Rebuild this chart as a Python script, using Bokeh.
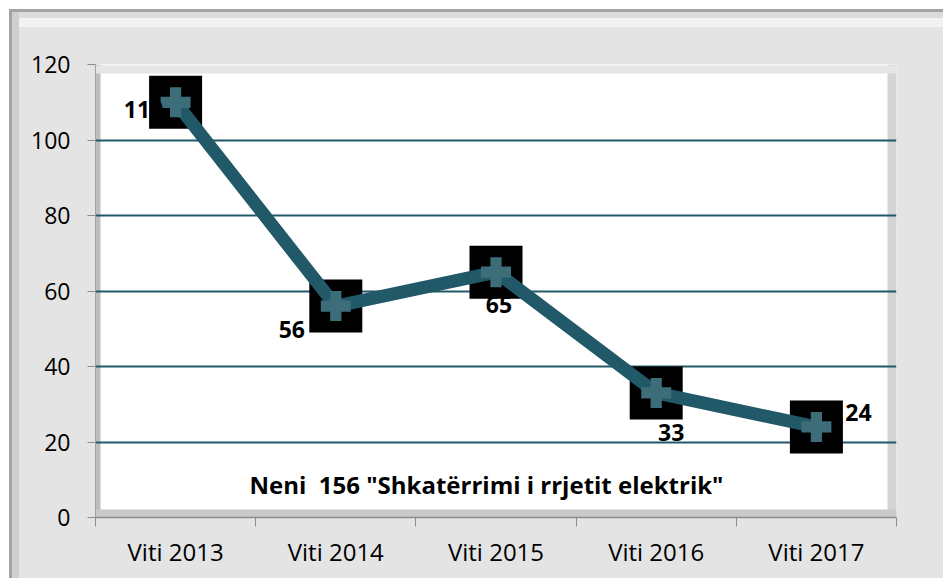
from bokeh.plotting import figure
from bokeh.models import Range1d, FixedTicker, ColumnDataSource, BoxAnnotation, Label, LabelSet
from bokeh.core.properties import value
from bokeh.embed import file_html
from bokeh.resources import INLINE

# ---- data ----
years = ["Viti 2013", "Viti 2014", "Viti 2015", "Viti 2016", "Viti 2017"]
counts = [110, 56, 65, 33, 24]
y_ticks = [0, 20, 40, 60, 80, 100, 120]
title_text = 'Neni\u00a0 156 "Shkatërrimi i rrjetit elektrik"'

# label placement (screen px) relative to each point
lab_dx = [-32, -44, 3, 15, 42]
lab_dy = [-16, -32, -41, -48, 6]

FONT = "Open Sans"
TEAL = "#215968"

xs = [i + 0.5 for i in range(len(years))]
src = ColumnDataSource(dict(x=xs, y=counts, txt=[str(c) for c in counts],
                            dx=lab_dx, dy=lab_dy))

W, H = 943, 578
FL, FT, FW, FH = 95, 64, 801, 453

bg_layers = [
    ("#ffffff", "0px 0px", "9px 100%"),
    ("#ffffff", "0px 0px", "100% 9px"),
    ("#a3a3a3", "9px 9px", "3px 100%"),
    ("#a3a3a3", "9px 9px", "100% 3px"),
    ("#cfcfcf", "12px 12px", "7px 100%"),
    ("#dcdcdc", "12px 12px", "100% 6px"),
    ("#f2f2f2", "19px 18px", "100% 9px"),
]
bg = ", ".join(f"linear-gradient({c},{c}) {pos} / {size} no-repeat"
               for c, pos, size in bg_layers)

p = figure(frame_width=FW, frame_height=FH,
           x_range=Range1d(0, len(years)), y_range=Range1d(0, 120),
           output_backend="svg", toolbar_location=None,
           min_border_left=FL, min_border_right=W - FL - FW,
           min_border_top=FT, min_border_bottom=H - FT - FH,
           styles={"background": bg + ", #e4e4e4"})
p.background_fill_color = "white"
p.border_fill_color = "#e4e4e4"
p.border_fill_alpha = 0
p.outline_line_color = None

px_x = len(years) / FW
px_y = 120 / FH

# inner plot-area shading strips
for kw, col in [
    (dict(left=0, right=5 * px_x), "#bebebe"),
    (dict(left=len(years) - 9 * px_x, right=len(years)), "#d4d4d4"),
    (dict(bottom=0, top=8 * px_y), "#c9c9c9"),
    (dict(top=120 - 1 * px_y, bottom=120 - 9 * px_y), "#e6e6e6"),
]:
    p.add_layout(BoxAnnotation(**kw, fill_color=col, fill_alpha=1,
                               line_color=None, level="image"))

# grid
p.xgrid.visible = False
p.ygrid.ticker = FixedTicker(ticks=y_ticks[1:])
p.ygrid.grid_line_color = TEAL
p.ygrid.grid_line_width = 2

# y axis
p.yaxis.ticker = FixedTicker(ticks=y_ticks)
p.yaxis.axis_line_color = "#a0a0a0"
p.yaxis.major_tick_line_color = "#8c8c8c"
p.yaxis.major_tick_out = 8
p.yaxis.major_tick_in = 0
p.yaxis.minor_tick_line_color = None
p.yaxis.major_label_standoff = 17
p.yaxis.major_label_text_font = FONT
p.yaxis.major_label_text_font_size = "23px"
p.yaxis.major_label_text_color = "black"

# x axis: labels at category centres, ticks at boundaries
p.xaxis.ticker = FixedTicker(ticks=xs, minor_ticks=list(range(len(years) + 1)))
p.xaxis.major_label_overrides = {x: lab for x, lab in zip(xs, years)}
p.xaxis.major_tick_line_color = None
p.xaxis.minor_tick_line_color = "#8c8c8c"
p.xaxis.minor_tick_out = 9
p.xaxis.minor_tick_in = 0
p.xaxis.axis_line_color = "#8c8c8c"
p.xaxis.axis_line_width = 1.5
p.xaxis.major_label_standoff = 8
p.xaxis.major_label_text_font = FONT
p.xaxis.major_label_text_font_size = "24px"
p.xaxis.major_label_text_color = "black"

# data labels (under markers)
p.add_layout(LabelSet(x="x", y="y", text="txt", x_offset="dx", y_offset="dy",
                      source=src, text_font=value(FONT), text_font_style="bold",
                      text_font_size="23px", text_color="black",
                      text_align="center", text_baseline="alphabetic",
                      level="glyph"))

p.scatter("x", "y", source=src, marker="square", size=53, fill_color="black",
          line_color=None)
p.line("x", "y", source=src, line_color=TEAL, line_width=13)
p.scatter("x", "y", source=src, marker="plus", size=30, fill_color="#3c6d79",
          line_color=None)

p.add_layout(Label(x=(486 - FL) * px_x, y=(FT + FH - 484) * px_y, text=title_text,
                   text_font=FONT, text_font_style="bold", text_font_size="24px",
                   text_color="black", text_align="center",
                   text_baseline="alphabetic"))

open("out.html", "w").write(file_html(p, INLINE))
